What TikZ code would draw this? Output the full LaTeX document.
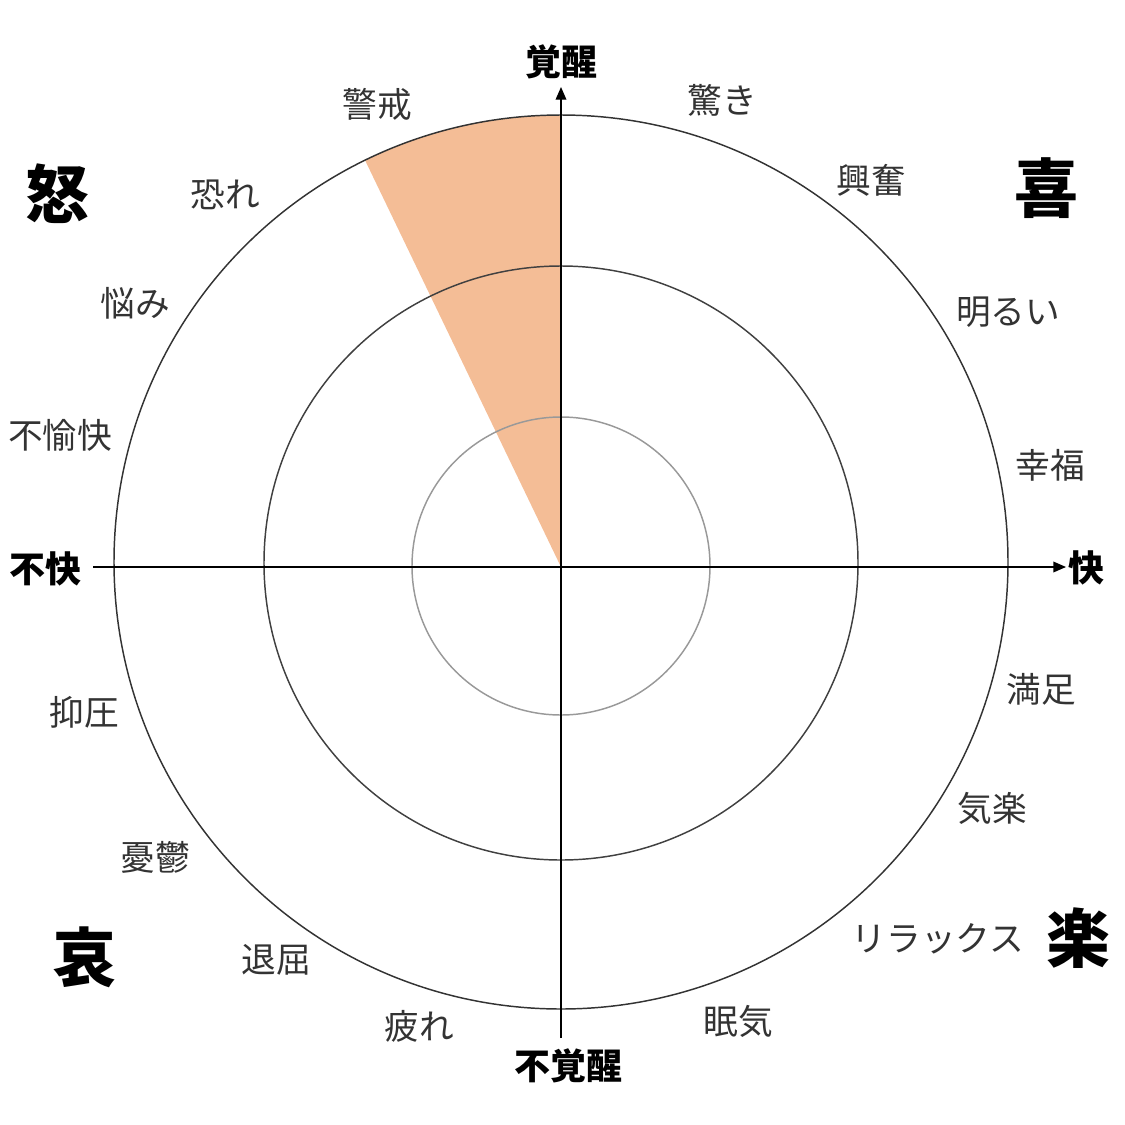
\documentclass[tikz,border=0pt]{standalone}
\usepackage{fontspec}
\setmainfont{Noto Sans CJK JP}
\usetikzlibrary{arrows.meta}
\definecolor{wedge}{HTML}{F4BD96}
\begin{document}
\begin{tikzpicture}[x=0.75pt,y=-0.75pt,
  lbl/.style={font=\fontsize{26}{30}\selectfont, text=black!80, inner sep=0},
  axl/.style={font=\fontsize{27}{30}\selectfont\bfseries, text=black, inner sep=0},
  big/.style={font=\fontsize{48}{52}\selectfont\bfseries, text=black, inner sep=0},
  ring/.style={line width=1.1pt, draw=black!80},
  axis/.style={line width=1pt, draw=black},
  arr/.style={-{Triangle[length=9.5pt,width=8pt]}}]
\useasboundingbox (0,0) rectangle (1125,1125);
% wedge
\fill[wedge] (561,567) -- (561,115) arc[start angle=-90, end angle=-116, radius=447] -- cycle;
% rings
\draw[ring] (561,562) circle[radius=447];
\draw[ring, draw=black!75] (561,563) circle[radius=297];
\draw[ring, draw=black!40] (561,566) circle[radius=149];
% axes
\coordinate (L) at (93,567);
\coordinate (R) at (1066,567);
\coordinate (B) at (561,1038);
\coordinate (T) at (561,87);
\draw[axis, arr] (L) -- (R);
\draw[axis, arr] (B) -- (T);
% axis labels
\node[axl] (kakusei) at (561,62) {覚醒};
\node[axl] (fukakusei) at (568,1066) {不覚醒};
\node[axl] (fukai) at (45,569) {不快};
\node[axl] (kai) at (1086,568) {快};
% big
\node[big] (do) at (57,194) {怒};
\node[big] (ki) at (1046,188) {喜};
\node[big] (ai) at (84,957) {哀};
\node[big] (raku) at (1078,938) {楽};
% labels
\node[lbl] (l1) at (377,104) {警戒};
\node[lbl] (l2) at (722,100) {驚き};
\node[lbl] (l3) at (225,195) {恐れ};
\node[lbl] (l4) at (871,180) {興奮};
\node[lbl] (l5) at (135,303) {悩み};
\node[lbl] (l6) at (1008,312) {明るい};
\node[lbl] (l7) at (60,435) {不愉快};
\node[lbl] (l8) at (1050,465) {幸福};
\node[lbl] (l9) at (84,712) {抑圧};
\node[lbl] (l10) at (1041,689) {満足};
\node[lbl] (l11) at (155,857) {憂鬱};
\node[lbl] (l12) at (992,808) {気楽};
\node[lbl] (l13) at (276,960) {退屈};
\node[lbl] (l14) at (938,939) {リラックス};
\node[lbl] (l15) at (419,1026) {疲れ};
\node[lbl] (l16) at (738,1021) {眠気};
\end{tikzpicture}
\end{document}
